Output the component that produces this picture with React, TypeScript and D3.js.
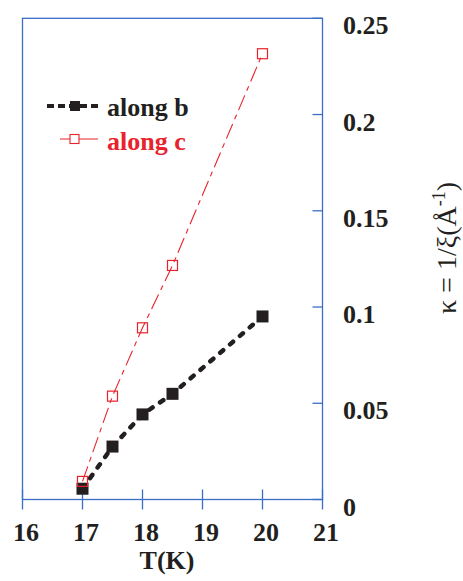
import React from "react";
import * as d3 from "d3";

const temps = [17, 17.5, 18, 18.5, 20];
const alongB = [0.0056, 0.0275, 0.0442, 0.0549, 0.0951];
const alongC = [0.0094, 0.0537, 0.0892, 0.1216, 0.2316];
const xTicks = [16, 17, 18, 19, 20, 21];
const yTicks = [0, 0.05, 0.1, 0.15, 0.2, 0.25];
const yTickLabels = ["0", "0.05", "0.1", "0.15", "0.2", "0.25"];

const W = 463;
const H = 581;
const L = 22.5, R = 322.5, T = 18.3, B = 499.5;
const BLUE = "#3a6fc6";
const RED = "#e8232b";
const BLACK = "#231f20";
const FONT = "Liberation Serif, Times New Roman, serif";

export default function App() {
  const x = d3.scaleLinear().domain([16, 21]).range([L, R]);
  const y = d3.scaleLinear().domain([0, 0.25]).range([B, T]);
  const line = d3.line<[number, number]>().x(d => x(d[0])).y(d => y(d[1]));
  const bPts: [number, number][] = temps.map((t, i) => [t, alongB[i]]);
  const cPts: [number, number][] = temps.map((t, i) => [t, alongC[i]]);

  return (
    <svg width={W} height={H} style={{ position: "absolute", left: 0, top: 0, background: "#fff" }}>
      <rect x={0} y={0} width={W} height={H} fill="#fff" />
      {/* frame */}
      <rect x={L} y={T} width={R - L} height={B - T} fill="none" stroke={BLUE} strokeWidth={1.3} />
      {/* x ticks */}
      {xTicks.map(t => (
        <g key={"xt" + t}>
          <line x1={x(t)} x2={x(t)} y1={B + 10} y2={B - 10} stroke={BLUE} strokeWidth={1.3} />
          <text x={x(t) + 3.5} y={541} textAnchor="middle" fontFamily={FONT} fontWeight="bold" fontSize={26} fill={BLACK}>{t}</text>
        </g>
      ))}
      {/* y ticks on right */}
      {yTicks.map((t, i) => (
        <g key={"yt" + t}>
          <line x1={R} x2={R - 10} y1={y(t)} y2={y(t)} stroke={BLUE} strokeWidth={1.3} />
          <text x={343} y={y(t) + 16} fontFamily={FONT} fontWeight="bold" fontSize={26} fill={BLACK}>{yTickLabels[i]}</text>
        </g>
      ))}
      {/* x label */}
      <text x={167} y={569} textAnchor="middle" fontFamily={FONT} fontWeight="bold" fontSize={26} fill={BLACK}>T(K)</text>
      {/* y label */}
      <text transform="translate(456,248) rotate(-90)" textAnchor="middle" fontFamily={FONT} fontSize={28} fill={BLACK}>
        κ = 1/ξ(Å<tspan dy={-11} fontSize={18}>-1</tspan><tspan dy={11}>)</tspan>
      </text>
      {/* along c line */}
      <path d={line(cPts) || ""} fill="none" stroke={RED} strokeWidth={1.1} strokeDasharray="16,5,5,5" />
      {/* along b line */}
      <path d={line(bPts) || ""} fill="none" stroke={BLACK} strokeWidth={4.5} strokeDasharray="4,9" strokeLinecap="round" />
      {bPts.map((p, i) => (
        <rect key={"b" + i} x={x(p[0]) - 6} y={y(p[1]) - 6} width={12} height={12} fill={BLACK} />
      ))}
      {cPts.map((p, i) => (
        <rect key={"c" + i} x={x(p[0]) - 5} y={y(p[1]) - 5} width={10} height={10} fill="none" stroke={RED} strokeWidth={1.2} />
      ))}
      {/* legend */}
      <line x1={47} x2={102} y1={106} y2={106} stroke={BLACK} strokeWidth={4} strokeDasharray="7,4" />
      <rect x={70} y={101} width={10} height={10} fill={BLACK} />
      <text x={107} y={116} fontFamily={FONT} fontWeight="bold" fontSize={26} fill={BLACK}>along b</text>
      <line x1={60} x2={98} y1={139} y2={139} stroke={RED} strokeWidth={1.1} />
      <rect x={70} y={134.5} width={9} height={9} fill="#fff" stroke={RED} strokeWidth={1.1} />
      <text x={107} y={150} fontFamily={FONT} fontWeight="bold" fontSize={26} fill={RED}>along c</text>
    </svg>
  );
}
